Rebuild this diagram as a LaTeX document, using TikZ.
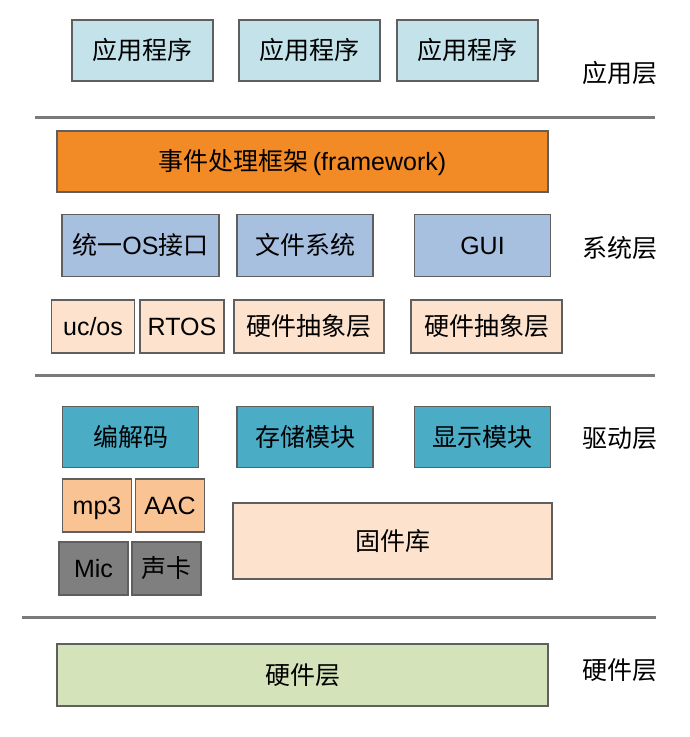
\documentclass[tikz,border=0pt]{standalone}
\usepackage{fontspec}
\setmainfont{Liberation Sans}
\newfontfamily\cjk{Noto Sans CJK SC}
\newcommand{\zh}[1]{{\cjk #1}}
\definecolor{appblue}{HTML}{C3E2EA}
\definecolor{frameorange}{HTML}{F28A26}
\definecolor{sysblue}{HTML}{A8C0E0}
\definecolor{peach}{HTML}{FDE3CE}
\definecolor{drvteal}{HTML}{4BACC6}
\definecolor{codecorange}{HTML}{FAC393}
\definecolor{devgray}{HTML}{7F7F7F}
\definecolor{hwgreen}{HTML}{D5E3BA}
\definecolor{edgegray}{HTML}{5F5F5F}
\definecolor{rulegray}{HTML}{7A7A7A}
\tikzset{
  box/.style={draw=edgegray,line width=1.2pt,inner sep=0pt,text height=21pt,text depth=3pt,font=\fontsize{25}{27}\selectfont},
  appbox/.style={box,fill=appblue,minimum width=141pt,minimum height=61pt},
  sysbox/.style={box,fill=sysblue,minimum width=136pt,minimum height=62pt},
  halbox/.style={box,fill=peach,minimum height=53pt},
  drvbox/.style={box,fill=drvteal,minimum width=136pt,minimum height=61pt},
  codecbox/.style={box,fill=codecorange,minimum width=69pt,minimum height=53pt},
  devbox/.style={box,fill=devgray,minimum width=69pt,minimum height=53pt},
  layer/.style={font=\fontsize{25}{27}\selectfont},
  divider/.style={draw=rulegray,line width=3pt}
}
\begin{document}
\begin{tikzpicture}[x=1pt,y=-1pt]
\useasboundingbox[fill=white] (0,0) rectangle (689,737);
% application layer
\foreach \x/\n in {142.5/app1,309.5/app2,467.5/app3}
  \node[appbox] (\n) at (\x,50.5) {\zh{应用程序}};
\node[layer] (applayer) at (620,73) {\zh{应用层}};
\coordinate (r1a) at (35,117);
\coordinate (r1b) at (655,117);
\draw[divider] (r1a) -- (r1b);
% system layer
\node[box,fill=frameorange,minimum width=491pt,minimum height=61pt] (frame) at (302.5,161.5) {\zh{事件处理框架}\,(framework)};
\node[sysbox,minimum width=157pt] (osif) at (140.5,245.5) {\zh{统一}OS\zh{接口}};
\node[sysbox] (fs) at (305,245.5) {\zh{文件系统}};
\node[sysbox] (gui) at (482.5,245.5) {GUI};
\node[halbox,minimum width=83pt] (ucos) at (93,326.5) {uc/os};
\node[halbox,minimum width=84pt] (rtos) at (182,326.5) {RTOS};
\node[halbox,minimum width=150pt] (hal1) at (309,326.5) {\zh{硬件抽象层}};
\node[halbox,minimum width=151pt] (hal2) at (486.5,326.5) {\zh{硬件抽象层}};
\node[layer] (syslayer) at (620,248) {\zh{系统层}};
\coordinate (r2a) at (35,375);
\coordinate (r2b) at (655,375);
\draw[divider] (r2a) -- (r2b);
% driver layer
\node[drvbox] (codec) at (130.5,437) {\zh{编解码}};
\node[drvbox] (storage) at (305,437) {\zh{存储模块}};
\node[drvbox] (display) at (482.5,437) {\zh{显示模块}};
\node[codecbox] (mp3) at (97,505.5) {mp3};
\node[codecbox] (aac) at (170,505.5) {AAC};
\node[devbox] (mic) at (93.5,568.5) {Mic};
\node[devbox] (card) at (166.5,568.5) {\zh{声卡}};
\node[box,fill=peach,minimum width=319pt,minimum height=76pt] (firmware) at (392.5,541) {\zh{固件库}};
\node[layer] (drvlayer) at (620,438) {\zh{驱动层}};
\coordinate (r3a) at (22,617);
\coordinate (r3b) at (656,617);
\draw[divider] (r3a) -- (r3b);
% hardware layer
\node[box,fill=hwgreen,minimum width=491pt,minimum height=62pt] (hw) at (302.5,675) {\zh{硬件层}};
\node[layer] (hwlayer) at (620,670) {\zh{硬件层}};
\end{tikzpicture}
\end{document}
